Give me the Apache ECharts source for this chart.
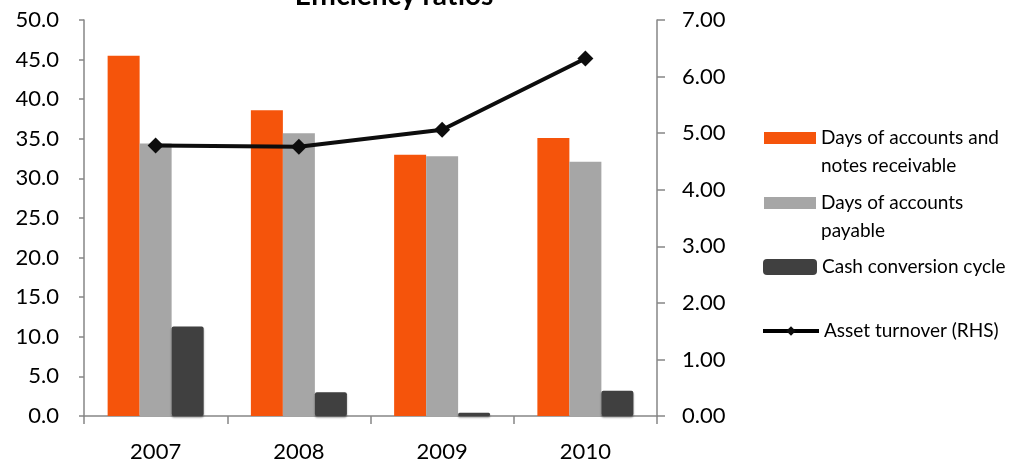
<!DOCTYPE html>
<html>
<head>
<meta charset="utf-8">
<script src="https://cdn.jsdelivr.net/npm/echarts@6/dist/echarts.min.js"></script>
<style>
  html, body { margin: 0; padding: 0; background: #fff; }
  #chart { width: 1022px; height: 463px; }
</style>
</head>
<body>
<div id="chart"></div>
<script>
// Efficiency ratios, 2007-2010
const years = ['2007', '2008', '2009', '2010'];
const daysReceivable = [45.5, 38.6, 33.0, 35.1];
const daysPayable = [34.4, 35.7, 32.8, 32.1];
const cashCycle = [11.3, 3.0, 0.4, 3.2];
const assetTurnover = [4.78, 4.76, 5.06, 6.32];

const seriesNames = [
  'Days of accounts and notes receivable',
  'Days of accounts payable',
  'Cash conversion cycle',
  'Asset turnover (RHS)'
];
const legendText = {
  'Days of accounts and notes receivable': 'Days of accounts and\nnotes receivable',
  'Days of accounts payable': 'Days of accounts\npayable',
  'Cash conversion cycle': 'Cash conversion cycle',
  'Asset turnover (RHS)': 'Asset turnover (RHS)'
};

const FONT = 'Lato';
const axisGray = '#868686';

// Swatch icon for two-line legend entries: the filled block sits level with
// the first text line; the two tiny end points only stretch the icon box.
const twoLineSwatch = 'path://M0,0L0.01,0L0.01,0.01Z M0,8L52,8L52,20L0,20Z M0,56L0.01,56L0.01,55.99Z';

// one legend block per series so each entry can sit at its own height
function legendAt(name, left, top, extra) {
  return Object.assign({
    data: [name],
    left: left,
    top: top,
    padding: 0,
    orient: 'vertical',
    itemWidth: 52,
    itemHeight: 12,
    itemGap: 0,
    selectedMode: false,
    formatter: n => legendText[n],
    textStyle: {
      fontFamily: FONT,
      fontSize: 19,
      color: '#000',
      lineHeight: 28
    }
  }, extra || {});
}

const chart = echarts.init(document.getElementById('chart'), null, { renderer: 'canvas' });
chart.setOption({
  animation: false,
  backgroundColor: '#fff',
  title: {
    text: 'Efficiency ratios',
    left: 389,
    textAlign: 'center',
    top: -23,
    textStyle: { fontFamily: FONT, fontWeight: 'bold', fontSize: 28, color: '#000' }
  },
  grid: { left: 84, right: 365, top: 20, bottom: 45, containLabel: false },
  legend: [
    legendAt(seriesNames[0], 764, 124, { itemHeight: 56, icon: twoLineSwatch }),
    legendAt(seriesNames[1], 764, 189, { itemHeight: 56, icon: twoLineSwatch }),
    legendAt(seriesNames[2], 763, 253, { itemWidth: 54, itemHeight: 16 }),
    legendAt(seriesNames[3], 761, 317, {
      itemWidth: 56, itemHeight: 12,
      lineStyle: { width: 4, color: '#000' }
    })
  ],
  xAxis: {
    type: 'category',
    data: years,
    axisLine: { lineStyle: { color: axisGray, width: 1.5 } },
    axisTick: { show: true, length: 8, lineStyle: { color: axisGray, width: 1.5 } },
    axisLabel: { fontFamily: FONT, fontSize: 22, color: '#000', margin: 25 }
  },
  yAxis: [
    {
      type: 'value',
      min: 0, max: 50, interval: 5,
      splitLine: { show: false },
      axisLine: { show: true, lineStyle: { color: axisGray, width: 1.5 } },
      axisTick: { show: true, length: 5, lineStyle: { color: axisGray, width: 1.5 } },
      axisLabel: { fontFamily: FONT, fontSize: 22, color: '#000', margin: 25, formatter: v => v.toFixed(1) }
    },
    {
      type: 'value',
      position: 'right',
      min: 0, max: 7, interval: 1,
      splitLine: { show: false },
      axisLine: { show: true, lineStyle: { color: axisGray, width: 1.5 } },
      axisTick: { show: true, length: 8, lineStyle: { color: axisGray, width: 1.5 } },
      axisLabel: { fontFamily: FONT, fontSize: 22, color: '#000', margin: 25, formatter: v => v.toFixed(2) }
    }
  ],
  series: [
    {
      name: seriesNames[0], type: 'bar', data: daysReceivable,
      barWidth: 32, barGap: '0%',
      itemStyle: { color: '#F5540B' }
    },
    {
      name: seriesNames[1], type: 'bar', data: daysPayable,
      barWidth: 32, barGap: '0%',
      itemStyle: { color: '#A6A6A6' }
    },
    {
      name: seriesNames[2], type: 'bar', data: cashCycle,
      barWidth: 32, barGap: '0%',
      itemStyle: {
        color: '#404040',
        borderRadius: 2,
        shadowColor: 'rgba(0,0,0,0.45)', shadowBlur: 2, shadowOffsetY: 1.5
      }
    },
    {
      name: seriesNames[3], type: 'line', yAxisIndex: 1, data: assetTurnover,
      symbol: 'diamond', symbolSize: 16,
      lineStyle: { color: '#0D0D0D', width: 4 },
      itemStyle: { color: '#0D0D0D' },
      z: 5
    }
  ]
});
</script>
</body>
</html>
